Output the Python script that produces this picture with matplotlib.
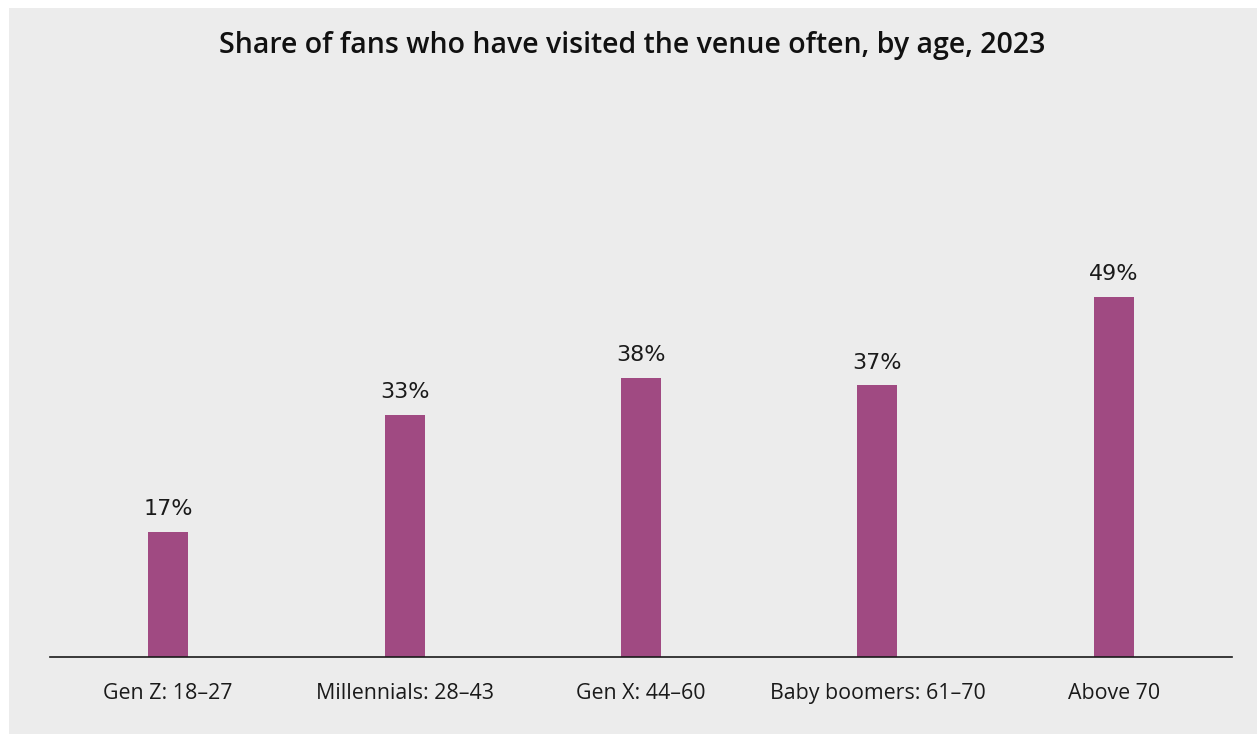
import matplotlib
matplotlib.use("Agg")
import matplotlib.pyplot as plt

categories = ["Gen Z: 18–27", "Millennials: 28–43", "Gen X: 44–60", "Baby boomers: 61–70", "Above 70"]
values = [17, 33, 38, 37, 49]
title = "Share of fans who have visited the venue often, by age, 2023"

W, H = 1257, 736
fig = plt.figure(figsize=(W / 100, H / 100), dpi=100)
fig.patch.set_facecolor("white")
# gray panel
panel = plt.Rectangle((9 / W, 2 / H), 1 - 9 / W, (734 - 8) / H, transform=fig.transFigure,
                      facecolor="#ececec", edgecolor="none", zorder=-10)
fig.patches.append(panel)

ax = fig.add_axes([50 / W, (H - 657) / H, (1232 - 50) / W, 551 / H])
ax.set_zorder(5)
ax.set_facecolor("none")
x = range(len(categories))
bars = ax.bar(x, values, width=0.169, color="#a04a82", zorder=2)
ax.set_xlim(-0.5, len(categories) - 0.5)
ax.set_ylim(0, 75)
for xi, v in zip(x, values):
    ax.annotate(f"{v}%", (xi, v), xytext=(0, 12), textcoords="offset points",
                ha="center", va="baseline", fontsize=16, family="DejaVu Sans", color="#1a1a1a")
ax.set_xticks(list(x))
ax.set_xticklabels(categories, fontsize=15.4, family="Open Sans", color="#1a1a1a")
ax.tick_params(axis="x", length=0, pad=19)
ax.set_yticks([])
for s in ["top", "right", "left"]:
    ax.spines[s].set_visible(False)
ax.spines["bottom"].set_color("#1a1a1a")
ax.spines["bottom"].set_linewidth(1.2)

fig.text(632 / W, 1 - 45 / H, title, ha="center", va="center", fontsize=20.5,
         family="Open Sans", fontweight="semibold", color="#111111", zorder=6)

fig.savefig("out.png", dpi=100, facecolor="white")
